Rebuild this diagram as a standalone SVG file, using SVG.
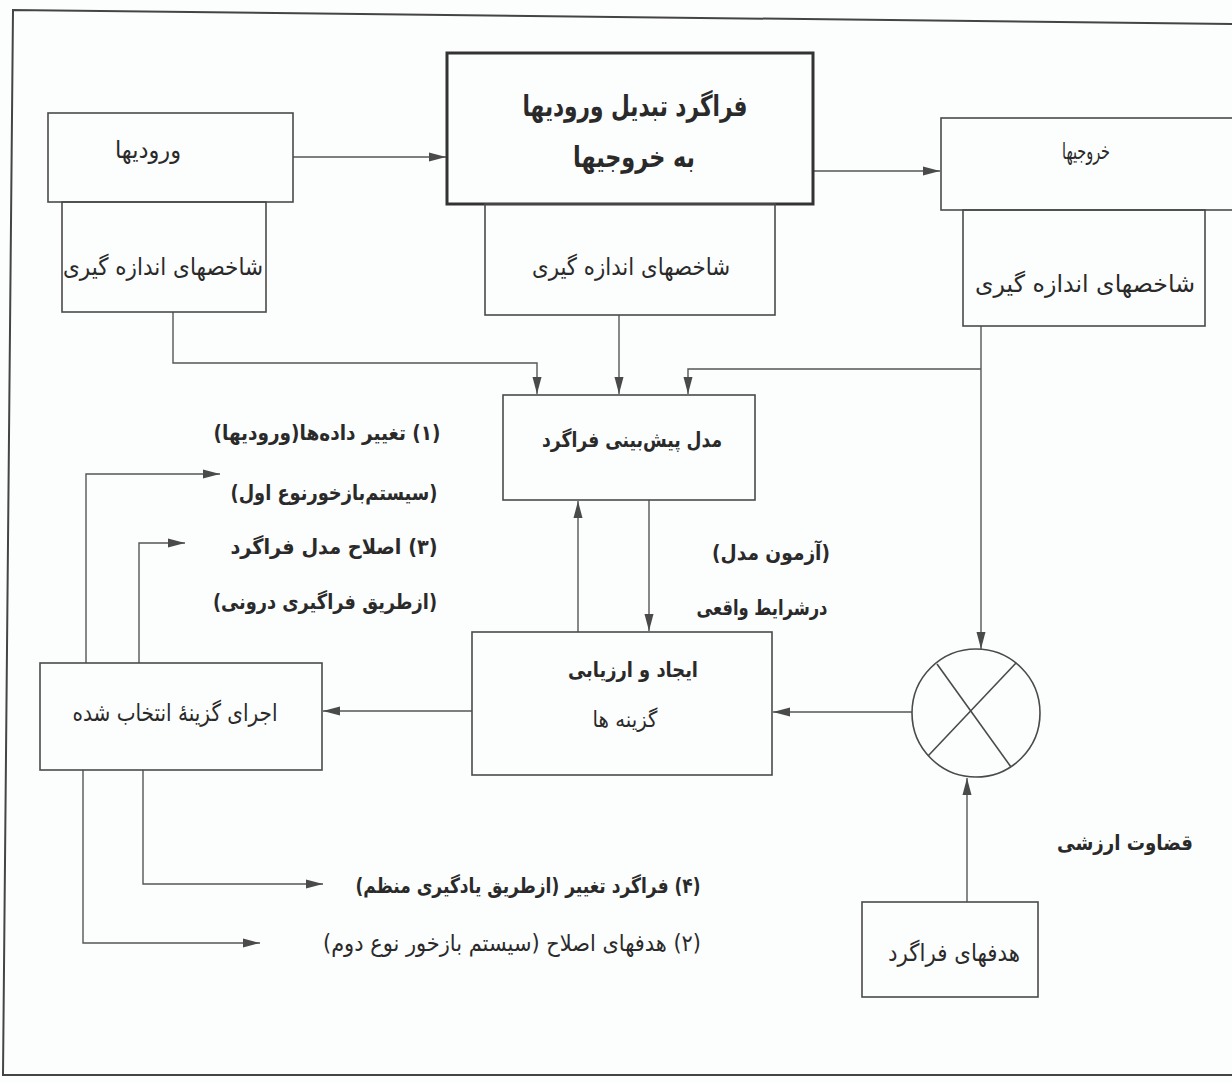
<svg xmlns="http://www.w3.org/2000/svg" width="1232" height="1083" viewBox="0 0 1232 1083">
  <defs>
    <marker id="ah" markerWidth="17" markerHeight="12" refX="17" refY="6" orient="auto" markerUnits="userSpaceOnUse">
      <path d="M0,1.5 L17,6 L0,10.5 Z" fill="#4a4a4a"/>
    </marker>
    <style>
      .box { fill: none; stroke: #4a4a4a; stroke-width: 1.6; }
      .thick { fill: none; stroke: #333; stroke-width: 3; }
      .arr { fill: none; stroke: #555; stroke-width: 1.4; marker-end: url(#ah); }
      .t { font-family: "DejaVu Sans", "Noto Sans", sans-serif; fill: #2a2a2a; text-anchor: middle; direction: rtl; }
      .b { font-weight: bold; }
    </style>
  </defs>
  <rect x="0" y="0" width="1232" height="1083" fill="#fcfdfd"/>
  <g id="frame">
    <polyline points="1232,24 13,10 3,1075 1232,1075" fill="none" stroke="#444" stroke-width="2"/>
  </g>

  <g id="connectors">
    <line class="arr" x1="293" y1="157" x2="446" y2="157"/>
    <line class="arr" x1="814" y1="171" x2="940" y2="171"/>
    <polyline class="arr" points="173,312 173,363 537,363 537,394"/>
    <line class="arr" x1="619" y1="315" x2="619" y2="394"/>
    <line class="arr" x1="981" y1="326" x2="981" y2="649"/>
    <polyline class="arr" points="981,369 688,369 688,394"/>
    <line class="arr" x1="578" y1="632" x2="578" y2="501"/>
    <line class="arr" x1="649" y1="500" x2="649" y2="631"/>
    <line class="arr" x1="912" y1="712" x2="773" y2="712"/>
    <line class="arr" x1="967" y1="902" x2="967" y2="778"/>
    <line class="arr" x1="472" y1="711" x2="323" y2="711"/>
    <polyline class="arr" points="86,663 86,474 220,474"/>
    <polyline class="arr" points="139,663 139,543 185,543"/>
    <polyline class="arr" points="143,770 143,884 323,884"/>
    <polyline class="arr" points="83,770 83,943 260,943"/>
  </g>

  <g id="inputs">
    <rect class="box" x="48" y="113" width="245" height="89"/>
    <text class="t" x="148" y="158" font-size="24" textLength="66" lengthAdjust="spacingAndGlyphs">ورودیها</text>
  </g>
  <g id="measure-inputs">
    <rect class="box" x="62" y="202" width="204" height="110"/>
    <text class="t" x="163" y="275" font-size="24" textLength="200" lengthAdjust="spacingAndGlyphs">شاخصهای اندازه گیری</text>
  </g>
  <g id="process">
    <rect class="thick" x="447" y="53" width="366" height="151"/>
    <text class="t b" x="635" y="116" font-size="29" textLength="225" lengthAdjust="spacingAndGlyphs">فراگرد تبدیل ورودیها</text>
    <text class="t b" x="634" y="167" font-size="29" textLength="122" lengthAdjust="spacingAndGlyphs">به خروجیها</text>
  </g>
  <g id="measure-process">
    <rect class="box" x="485" y="204" width="290" height="111"/>
    <text class="t" x="631" y="275" font-size="24" textLength="198" lengthAdjust="spacingAndGlyphs">شاخصهای اندازه گیری</text>
  </g>
  <g id="outputs">
    <rect class="box" x="941" y="118" width="310" height="92"/>
    <text class="t" x="1086" y="159" font-size="23" textLength="48" lengthAdjust="spacingAndGlyphs">خروجیها</text>
  </g>
  <g id="measure-outputs">
    <rect class="box" x="963" y="210" width="242" height="116"/>
    <text class="t" x="1085" y="292" font-size="24" textLength="220" lengthAdjust="spacingAndGlyphs">شاخصهای اندازه گیری</text>
  </g>
  <g id="model">
    <rect class="box" x="503" y="395" width="252" height="105"/>
    <text class="t b" x="632" y="447" font-size="21" textLength="180" lengthAdjust="spacingAndGlyphs">مدل پیش‌بینی فراگرد</text>
  </g>
  <g id="evaluate">
    <rect class="box" x="472" y="632" width="300" height="143"/>
    <text class="t b" x="633" y="677" font-size="21" textLength="130" lengthAdjust="spacingAndGlyphs">ایجاد و ارزیابی</text>
    <text class="t" x="625" y="727" font-size="22" textLength="65" lengthAdjust="spacingAndGlyphs">گزینه ها</text>
  </g>
  <g id="execute">
    <rect class="box" x="40" y="663" width="282" height="107"/>
    <text class="t" x="175" y="721" font-size="24" textLength="205" lengthAdjust="spacingAndGlyphs">اجرای گزینهٔ انتخاب شده</text>
  </g>
  <g id="comparator">
    <circle cx="976" cy="713" r="64" fill="none" stroke="#4a4a4a" stroke-width="1.6"/>
    <line x1="937" y1="664" x2="1011" y2="767" stroke="#4a4a4a" stroke-width="1.6"/>
    <line x1="1016" y1="663" x2="928" y2="756" stroke="#4a4a4a" stroke-width="1.6"/>
  </g>
  <g id="goals">
    <rect class="box" x="862" y="902" width="176" height="95"/>
    <text class="t" x="954" y="961" font-size="24" textLength="132" lengthAdjust="spacingAndGlyphs">هدفهای فراگرد</text>
  </g>

  <g id="labels">
    <text class="t b" x="327" y="440" font-size="21" textLength="227" lengthAdjust="spacingAndGlyphs">(۱) تغییر داده‌ها(ورودیها)</text>
    <text class="t b" x="334" y="500" font-size="21" textLength="207" lengthAdjust="spacingAndGlyphs">(سیستم‌بازخورنوع اول)</text>
    <text class="t b" x="334" y="554" font-size="21" textLength="207" lengthAdjust="spacingAndGlyphs">(۳) اصلاح مدل فراگرد</text>
    <text class="t b" x="325" y="609" font-size="21" textLength="224" lengthAdjust="spacingAndGlyphs">(ازطریق فراگیری درونی)</text>
    <text class="t b" x="771" y="560" font-size="21" textLength="118" lengthAdjust="spacingAndGlyphs">(آزمون مدل)</text>
    <text class="t b" x="762" y="615" font-size="21" textLength="131" lengthAdjust="spacingAndGlyphs">درشرایط واقعی</text>
    <text class="t b" x="1125" y="850" font-size="21" textLength="136" lengthAdjust="spacingAndGlyphs">قضاوت ارزشی</text>
    <text class="t b" x="528" y="893" font-size="21" textLength="345" lengthAdjust="spacingAndGlyphs">(۴) فراگرد تغییر (ازطریق یادگیری منظم)</text>
    <text class="t" x="512" y="951" font-size="23" textLength="378" lengthAdjust="spacingAndGlyphs">(۲) هدفهای اصلاح (سیستم بازخور نوع دوم)</text>
  </g>
</svg>
